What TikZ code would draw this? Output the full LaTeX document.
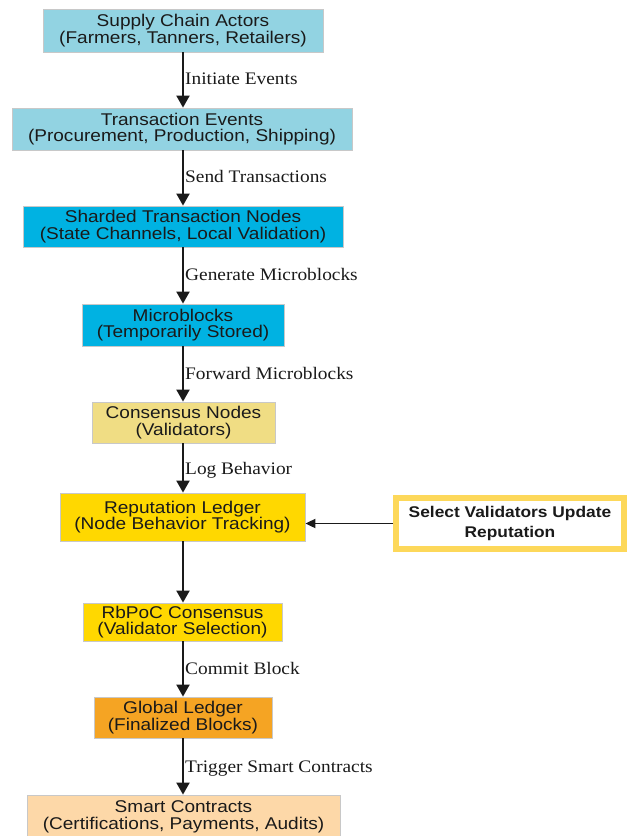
\documentclass[tikz,border=0pt]{standalone}
\usepackage{fontspec}
\setmainfont{Liberation Serif}[FakeStretch=1.1]
\setsansfont{Liberation Sans}[FakeStretch=1.12]
\usetikzlibrary{arrows.meta}
\definecolor{lblue}{HTML}{92D3E2}
\definecolor{dblue}{HTML}{00B2E2}
\definecolor{khaki}{HTML}{F0DD84}
\definecolor{gold}{HTML}{FFD800}
\definecolor{orng}{HTML}{F5A423}
\definecolor{peach}{HTML}{FDD8A8}
\definecolor{sidegold}{HTML}{FDD85A}
\definecolor{edge}{HTML}{C8C8C8}
\definecolor{ink}{HTML}{1A1A1A}
\begin{document}
\begin{tikzpicture}[x=1pt,y=-1pt,
  box/.style={draw=edge,line width=0.8pt,inner sep=0pt,align=center,text=ink,
    font=\sffamily\fontsize{17}{16.7}\selectfont},
  lbl/.style={anchor=base west,inner sep=0pt,text=ink,font=\rmfamily\fontsize{17.6}{18}\selectfont},
  arr/.style={line width=1.9pt,-{Triangle[width=13pt,length=12pt]},ink}]
\useasboundingbox (0,0) rectangle (632,836);
\node[box,fill=lblue,minimum width=280pt,minimum height=43pt] (a) at (183,30.5) {Supply Chain Actors\\(Farmers, Tanners, Retailers)};
\node[box,fill=lblue,minimum width=340pt,minimum height=42pt] (b) at (182,129) {Transaction Events\\(Procurement, Production, Shipping)};
\node[box,fill=dblue,minimum width=320pt,minimum height=41pt] (c) at (183,226.5) {Sharded Transaction Nodes\\(State Channels, Local Validation)};
\node[box,fill=dblue,minimum width=202pt,minimum height=42pt] (d) at (183,325) {Microblocks\\(Temporarily Stored)};
\node[box,fill=khaki,minimum width=183pt,minimum height=41pt] (e) at (183.5,422.5) {Consensus Nodes\\(Validators)};
\node[box,fill=gold,minimum width=245pt,minimum height=48pt] (f) at (182.5,517) {Reputation Ledger\\(Node Behavior Tracking)};
\node[box,fill=gold,minimum width=199pt,minimum height=38pt] (g) at (182.5,622) {RbPoC Consensus\\(Validator Selection)};
\node[box,fill=orng,minimum width=178pt,minimum height=41pt] (h) at (183,717.5) {Global Ledger\\(Finalized Blocks)};
\node[box,fill=peach,minimum width=313pt,minimum height=44pt] (i) at (183.5,817) {Smart Contracts\\(Certifications, Payments, Audits)};
\node[draw=sidegold,line width=6pt,fill=white,inner sep=0pt,align=center,text=ink,
  minimum width=228pt,minimum height=51pt,
  font=\sffamily\bfseries\fontsize{15.5}{20}\selectfont] (s) at (510,523.5) {Select Validators Update\\Reputation};
\draw[arr] (a.south -| 183,0) -- (b.north -| 183,0);
\draw[arr] (b.south -| 183,0) -- (c.north -| 183,0);
\draw[arr] (c.south -| 183,0) -- (d.north -| 183,0);
\draw[arr] (d.south -| 183,0) -- (e.north -| 183,0);
\draw[arr] (e.south -| 183,0) -- (f.north -| 183,0);
\draw[arr] (f.south -| 183,0) -- (g.north -| 183,0);
\draw[arr] (g.south -| 183,0) -- (h.north -| 183,0);
\draw[arr] (h.south -| 183,0) -- (i.north -| 183,0);
\draw[line width=1.8pt,-{Triangle[width=9pt,length=10pt]},ink] (s.west) -- (s.west -| f.east);
\node[lbl] (l1) at (185,84) {Initiate Events};
\node[lbl] (l2) at (185,182) {Send Transactions};
\node[lbl] (l3) at (185,280.5) {Generate Microblocks};
\node[lbl] (l4) at (185,379) {Forward Microblocks};
\node[lbl] (l5) at (185,474) {Log Behavior};
\node[lbl] (l6) at (185,674) {Commit Block};
\node[lbl] (l7) at (185,772) {Trigger Smart Contracts};
\end{tikzpicture}
\end{document}
